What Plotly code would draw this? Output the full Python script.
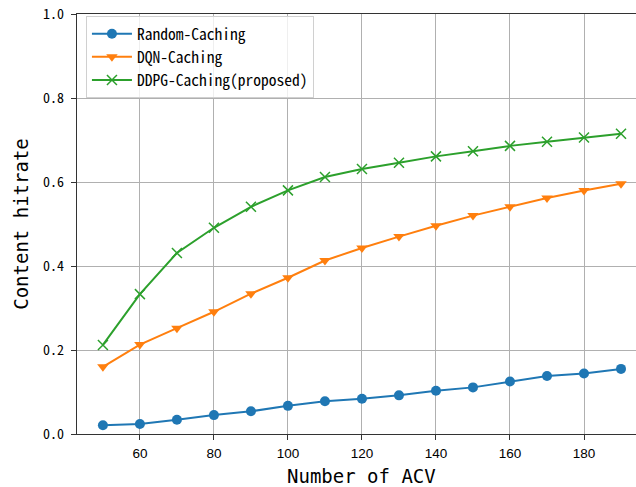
import plotly.graph_objects as go

acv = [50, 60, 70, 80, 90, 100, 110, 120, 130, 140, 150, 160, 170, 180, 190]
random_caching = [0.021, 0.024, 0.034, 0.045, 0.054, 0.067, 0.078, 0.084, 0.092, 0.103, 0.111, 0.125, 0.138, 0.144, 0.155]
dqn_caching = [0.160, 0.213, 0.252, 0.291, 0.334, 0.372, 0.413, 0.443, 0.470, 0.496, 0.520, 0.541, 0.562, 0.580, 0.596]
ddpg_caching = [0.212, 0.333, 0.431, 0.491, 0.541, 0.580, 0.612, 0.631, 0.646, 0.661, 0.673, 0.686, 0.696, 0.706, 0.715]
series_names = ["Random-Caching", "DQN-Caching", "DDPG-Caching(proposed)"]
x_ticks = [60, 80, 100, 120, 140, 160, 180]
y_ticks = [0.0, 0.2, 0.4, 0.6, 0.8, 1.0]
x_title = "Number of ACV"
y_title = "Content hitrate"

mono = "Noto Sans Mono CJK SC, Noto Sans CJK SC, DejaVu Sans Mono, monospace"
title_font = "DejaVu Sans Mono, Noto Sans Mono CJK SC, monospace"

fig = go.Figure()
fig.add_trace(go.Scatter(x=acv, y=random_caching, name=series_names[0], mode="lines+markers",
                         line=dict(color="#1f77b4", width=2),
                         marker=dict(symbol="circle", size=10, color="#1f77b4")))
fig.add_trace(go.Scatter(x=acv, y=dqn_caching, name=series_names[1], mode="lines+markers",
                         line=dict(color="#ff7f0e", width=2),
                         marker=dict(symbol="triangle-down", size=10, color="#ff7f0e")))
fig.add_trace(go.Scatter(x=acv, y=ddpg_caching, name=series_names[2], mode="lines+markers",
                         line=dict(color="#2ca02c", width=2),
                         marker=dict(symbol="x-thin", size=10, color="#2ca02c",
                                     line=dict(color="#2ca02c", width=1.5))))

fig.update_layout(
    width=636, height=487,
    margin=dict(l=77, r=0, t=14, b=53),
    plot_bgcolor="white", paper_bgcolor="white",
    showlegend=True,
    legend=dict(x=0.016, y=0.995, xanchor="left", yanchor="top",
                bgcolor="rgba(255,255,255,0.8)", bordercolor="#d0d0d0", borderwidth=1,
                font=dict(family=mono, size=15.5, color="black"),
                itemwidth=40, tracegroupgap=0),
    xaxis=dict(range=[43, 194.05], tickvals=x_ticks, showgrid=True, gridcolor="#b0b0b0", gridwidth=1,
               showline=True, linecolor="#333", linewidth=1.3, mirror=True,
               ticks="outside", ticklen=5, tickcolor="#333", ticklabelstandoff=2,
               tickfont=dict(family="Liberation Sans, Arial", size=13.5, color="black"),
               zeroline=False, automargin=False),
    yaxis=dict(range=[0, 1.0], tickvals=y_ticks, tickformat=".1f", showgrid=True, gridcolor="#b0b0b0", gridwidth=1,
               showline=True, linecolor="#333", linewidth=1.3,
               ticks="outside", ticklen=5, tickcolor="#333", ticklabelstandoff=4,
               tickfont=dict(family=mono, size=14, color="black"),
               title=dict(text=y_title, font=dict(family=title_font, size=19, color="black"), standoff=9),
               zeroline=False, automargin=False),
    annotations=[dict(text=x_title, xref="paper", yref="paper", x=0.5098, y=-0.099,
                      xanchor="center", yanchor="middle", showarrow=False,
                      font=dict(family=title_font, size=19, color="black"))],
)

fig.write_html("out.html", config={"displayModeBar": False},
               post_script="document.body.style.margin='0';document.body.style.overflow='hidden';")
